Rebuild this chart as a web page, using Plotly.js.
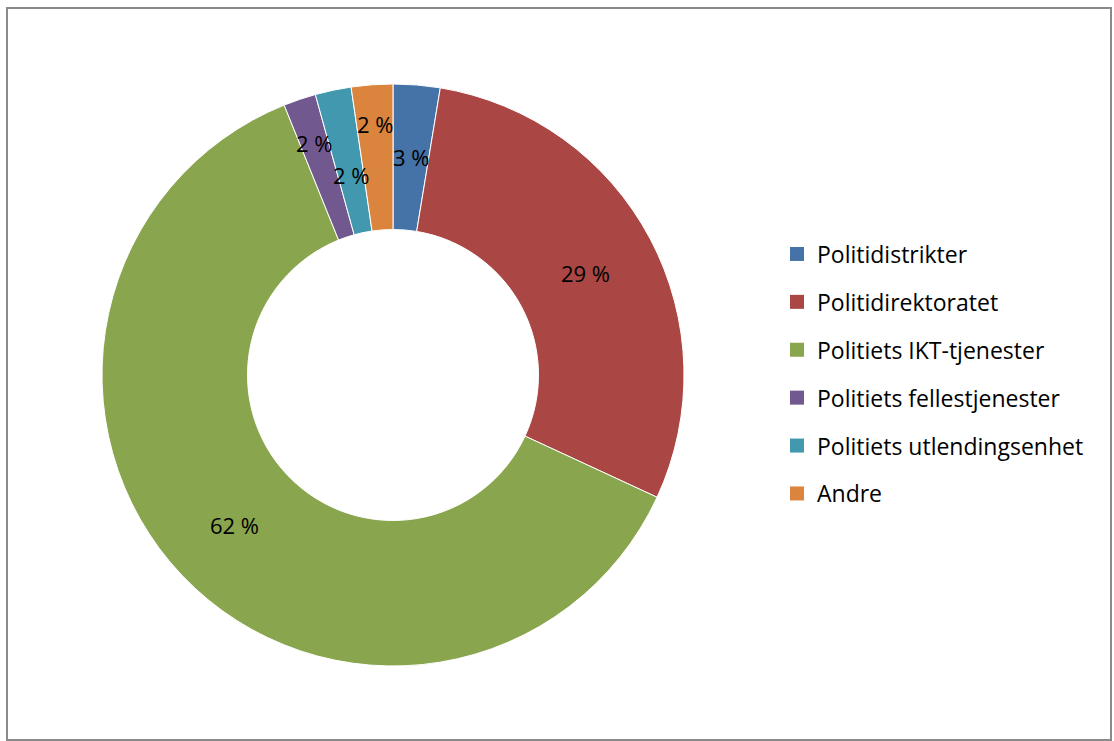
<!DOCTYPE html>
<html>
<head>
<meta charset="utf-8">
<script src="https://cdn.plot.ly/plotly-3.0.1.min.js"></script>
<style>
html,body{margin:0;padding:0;background:#fff;}
#chart{width:1114px;height:741px;}
</style>
</head>
<body>
<div id="chart"></div>
<script>
// Data
var categories = ["Politidistrikter", "Politidirektoratet", "Politiets IKT-tjenester", "Politiets fellestjenester", "Politiets utlendingsenhet", "Andre"];
var values = [2.6, 29.3, 62.0, 1.8, 2.0, 2.3];
var colors = ["#4572A7", "#AA4643", "#89A54E", "#71588F", "#4198AF", "#DB843D"];

// Label layout (radial nudges in px, like Excel's collision avoidance)
var labelNudge = [0, 0, 0, 27, -14, 33];

var total = values.reduce(function(a, b){ return a + b; }, 0);
var labelsText = values.map(function(v){ return Math.round(v / total * 100) + " %"; });

var W = 1114, H = 741;
var cx = 393, cy = 375, R = 291, HOLE = 0.5;
var FONT = "'Open Sans', 'Liberation Sans', sans-serif";

var traces = [{
  type: "pie",
  labels: categories,
  values: values,
  textinfo: "none",
  hole: HOLE,
  sort: false,
  direction: "clockwise",
  rotation: 0,
  marker: {colors: colors, line: {color: "#ffffff", width: 1}},
  showlegend: false,
  hoverinfo: "label+percent",
  domain: {x: [(cx - R) / W, (cx + R) / W], y: [1 - (cy + R) / H, 1 - (cy - R) / H]}
}];

categories.forEach(function(c, i){
  traces.push({
    type: "scatter",
    mode: "markers",
    x: [null], y: [null],
    name: c,
    legendgroup: "g" + i,
    marker: {symbol: "square", size: 14, color: colors[i]},
    showlegend: true,
    hoverinfo: "skip"
  });
});

// Data labels at mid-angle, mid-ring radius
var annotations = [];
var cum = 0;
values.forEach(function(v, i){
  var mid = (cum + v / 2) / total * 2 * Math.PI;
  cum += v;
  var r = R * (1 + HOLE) / 2 + labelNudge[i];
  var px = cx + r * Math.sin(mid), py = cy - r * Math.cos(mid);
  annotations.push({
    xref: "paper", yref: "paper",
    x: px / W, y: 1 - py / H,
    xanchor: "center", yanchor: "middle",
    text: labelsText[i], showarrow: false,
    font: {family: FONT, size: 22, color: "#000"}
  });
});

var layout = {
  width: W, height: H,
  margin: {l: 0, r: 0, t: 0, b: 0},
  paper_bgcolor: "#ffffff",
  plot_bgcolor: "rgba(0,0,0,0)",
  xaxis: {visible: false, range: [0, 1]},
  yaxis: {visible: false, range: [0, 1]},
  showlegend: true,
  legend: {
    x: 777 / W, xanchor: "left",
    y: 1 - 374 / H, yanchor: "middle",
    font: {family: FONT, size: 23, color: "#000"},
    tracegroupgap: 15,
    bgcolor: "rgba(0,0,0,0)"
  },
  annotations: annotations,
  shapes: [{
    type: "rect", xref: "paper", yref: "paper",
    x0: 7 / W, x1: 1111 / W, y0: 1 - 740 / H, y1: 1 - 8 / H,
    line: {color: "#8a8a8a", width: 2}
  }]
};

Plotly.newPlot("chart", traces, layout, {displayModeBar: false, staticPlot: true});
</script>
</body>
</html>
